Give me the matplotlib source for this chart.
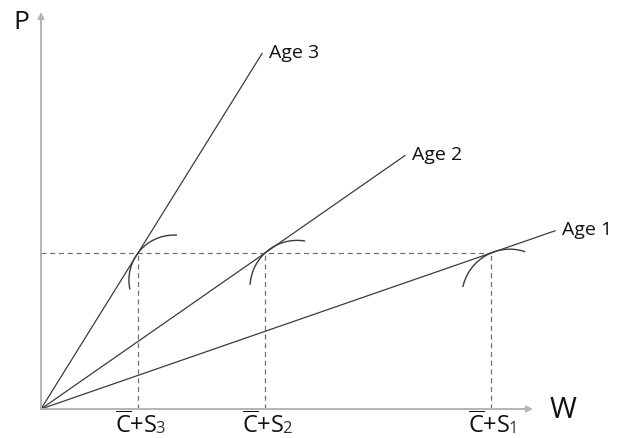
import numpy as np
import matplotlib
matplotlib.use("Agg")
import matplotlib.pyplot as plt

plt.rcParams['font.family'] = ['Open Sans', 'DejaVu Sans']
plt.rcParams['mathtext.fontset'] = 'custom'
plt.rcParams['mathtext.rm'] = 'Open Sans'

# chart values (W, P units ~ pixels of the original sketch)
ages = ['Age 3', 'Age 2', 'Age 1']
w_points = [97, 224, 450]          # C+S_i positions on the W axis
p_level = 156                       # common price level
line_ends = [221, 364, 514]         # where each ray stops
subscripts = ['3', '2', '1']
# indifference arcs: angle of the tangency point seen from arc centre, sweep
arc_at = [143, 133, 113]
arc_from = [191, 176, 167]
arc_to = [87, 81, 72]
arc_r = [45, 47, 48]

line_col = '#3c3c3c'
axis_col = '#b4b4b4'
dash_col = '#707070'
text_col = '#111111'

fig = plt.figure(figsize=(6.17, 4.39), dpi=100)
ax = fig.add_axes([0, 0, 1, 1])
ax.set_xlim(-41, 576)
ax.set_ylim(-29, 410)
ax.axis('off')

# axes with arrow heads
ax.annotate('', xy=(492, 0), xytext=(0, 0),
            arrowprops=dict(arrowstyle='-|>', color=axis_col, lw=1.4,
                            mutation_scale=9, shrinkA=0, shrinkB=0))
ax.annotate('', xy=(0, 397), xytext=(0, 0),
            arrowprops=dict(arrowstyle='-|>', color=axis_col, lw=1.4,
                            mutation_scale=9, shrinkA=0, shrinkB=0))
ax.text(-20, 388, 'P', fontsize=19, ha='center', va='center', color=text_col)
ax.text(522, -1, 'W', fontsize=21, ha='center', va='center', color=text_col)

# dashed guides
ax.plot([0, w_points[-1]], [p_level, p_level], ls=(0, (4, 3)), color=dash_col, lw=0.9)
for w in w_points:
    ax.plot([w, w], [0, p_level], ls=(0, (4, 3)), color=dash_col, lw=0.9)

fig.canvas.draw()
renderer = fig.canvas.get_renderer()

for i, name in enumerate(ages):
    slope = p_level / w_points[i]
    xe = line_ends[i]
    ax.plot([0, xe], [0, xe * slope], color=line_col, lw=0.9)
    ax.text(xe + 7, xe * slope + 2, name, fontsize=14, ha='left', va='center',
            color=text_col)

    # indifference curve arc through the tangency point
    r = arc_r[i]
    a0 = np.radians(arc_at[i])
    cx = w_points[i] - r * np.cos(a0)
    cy = p_level - r * np.sin(a0)
    th = np.radians(np.linspace(arc_from[i], arc_to[i], 60))
    ax.plot(cx + r * np.cos(th), cy + r * np.sin(th), color=line_col, lw=1.0)

    # tick label C̄+S_i, subscript digit kept near the baseline
    t = ax.text(w_points[i] - 23, -23, r'$\overline{\mathrm{C}}\mathrm{+S}$',
                fontsize=17, ha='left', va='baseline', color=text_col)
    bb = t.get_window_extent(renderer).transformed(ax.transData.inverted())
    ax.text(bb.x1 - 2, -23, subscripts[i], fontsize=12, ha='left',
            va='baseline', color='#333333')

fig.savefig('out.png', dpi=100)
